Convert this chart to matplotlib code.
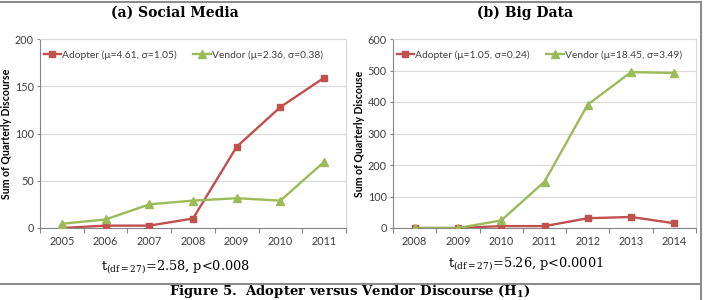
import matplotlib
matplotlib.use("Agg")
import matplotlib.pyplot as plt
from matplotlib.lines import Line2D

plt.rcParams['mathtext.fontset'] = 'dejavuserif'

# ---- data ----
years_a = ["2005", "2006", "2007", "2008", "2009", "2010", "2011"]
adopter_a = [0, 2.5, 2.5, 10, 86, 128, 159]
vendor_a = [4.5, 9, 25, 29, 31.5, 29, 70]
label_adopter_a = "Adopter (μ=4.61, σ=1.05)"
label_vendor_a = "Vendor (μ=2.36, σ=0.38)"
yticks_a = [0, 50, 100, 150, 200]

years_b = ["2008", "2009", "2010", "2011", "2012", "2013", "2014"]
adopter_b = [0, 0, 6, 6, 31, 35, 15]
vendor_b = [0, 0, 24, 147, 392, 495, 492]
label_adopter_b = "Adopter (μ=1.05, σ=0.24)"
label_vendor_b = "Vendor (μ=18.45, σ=3.49)"
yticks_b = [0, 100, 200, 300, 400, 500, 600]

W, H = 704, 300
fig = plt.figure(figsize=(W / 100, H / 100), dpi=100)

RED = "#C0504D"
GREEN = "#9BBB59"
AXIS = "#868686"
GRID = "#D9D9D9"
sans = "Lato"


def px_axes(x0, y0, x1, y1):
    return fig.add_axes([x0 / W, 1 - y1 / H, (x1 - x0) / W, (y1 - y0) / H])


def panel(ax, years, adopter, vendor, la, lv, yticks, ylabel):
    x = list(range(len(years)))
    ax.plot(x, adopter, color=RED, lw=1.7, marker='s', ms=4.8, label=la, zorder=3)
    ax.plot(x, vendor, color=GREEN, lw=1.7, marker='^', ms=5.2, label=lv, zorder=3)
    ax.set_xlim(-0.5, len(years) - 0.5)
    ax.set_ylim(yticks[0], yticks[-1])
    ax.set_yticks(yticks)
    ax.set_yticklabels([str(t) for t in yticks], fontsize=7.8, family=sans, color="#404040")
    ax.set_xticks(x)
    ax.set_xticklabels(years, fontsize=7.8, family=sans, color="#404040")
    ax.set_xticks([i - 0.5 for i in range(len(years) + 1)], minor=True)
    ax.tick_params(axis='x', which='major', length=0, pad=6)
    ax.tick_params(axis='x', which='minor', length=3.5, color=AXIS, width=0.8)
    ax.tick_params(axis='y', length=2.5, color=AXIS, width=0.8, pad=2)
    ax.yaxis.grid(True, color=GRID, lw=0.8)
    ax.set_axisbelow(True)
    for s in ['left', 'bottom']:
        ax.spines[s].set_color(AXIS)
        ax.spines[s].set_linewidth(0.8)
    for s in ['right', 'top']:
        ax.spines[s].set_color(GRID)
        ax.spines[s].set_linewidth(0.8)
    ax.set_ylabel(ylabel, fontsize=7.6, family=sans, fontweight='bold', labelpad=2)
    leg = ax.legend(loc='upper left', bbox_to_anchor=(0.005, 0.95), ncol=2, frameon=False,
                    prop={'family': sans, 'size': 7.4}, borderaxespad=0.2, borderpad=0,
                    handlelength=1.7, handletextpad=0.1, columnspacing=1.6)
    for t in leg.get_texts():
        t.set_color("#404040")


ax1 = px_axes(40, 39, 346, 228)
panel(ax1, years_a, adopter_a, vendor_a, label_adopter_a, label_vendor_a, yticks_a,
      "Sum of Quarterly Discourse")
ax2 = px_axes(393, 39, 696, 228)
panel(ax2, years_b, adopter_b, vendor_b, label_adopter_b, label_vendor_b, yticks_b,
      "Sum of Quarterly Discouse")

serif = "DejaVu Serif"
fig.text(175 / W, 1 - 13 / H, "(a) Social Media", ha='center', va='center',
         family=serif, fontweight='bold', fontsize=10)
fig.text(525 / W, 1 - 13 / H, "(b) Big Data", ha='center', va='center',
         family=serif, fontweight='bold', fontsize=10)
fig.text(175 / W, 1 - 267 / H, r"t$_{\mathrm{(df=27)}}$=2.58, p<0.008", ha='center', va='center',
         family=serif, fontsize=9.3)
fig.text(526 / W, 1 - 264 / H, r"t$_{\mathrm{(df=27)}}$=5.26, p<0.0001", ha='center', va='center',
         family=serif, fontsize=9.3)
fig.text(350 / W, 1 - 299.5 / H, r"Figure 5.  Adopter versus Vendor Discourse (H$_\mathbf{1}$)",
         ha='center', va='bottom', family=serif, fontweight='bold', fontsize=9.5)

# frame lines
fig.add_artist(Line2D([0, 701 / W], [1 - 2 / H, 1 - 2 / H], transform=fig.transFigure,
                      color="#8C8C8C", lw=1.5))
fig.add_artist(Line2D([701 / W, 701 / W], [0, 1 - 2 / H], transform=fig.transFigure,
                      color="#8C8C8C", lw=1.5))
fig.add_artist(Line2D([0, 701 / W], [1 - 284 / H, 1 - 284 / H], transform=fig.transFigure,
                      color="#8C8C8C", lw=1.5))

fig.savefig("out.png", dpi=100)
